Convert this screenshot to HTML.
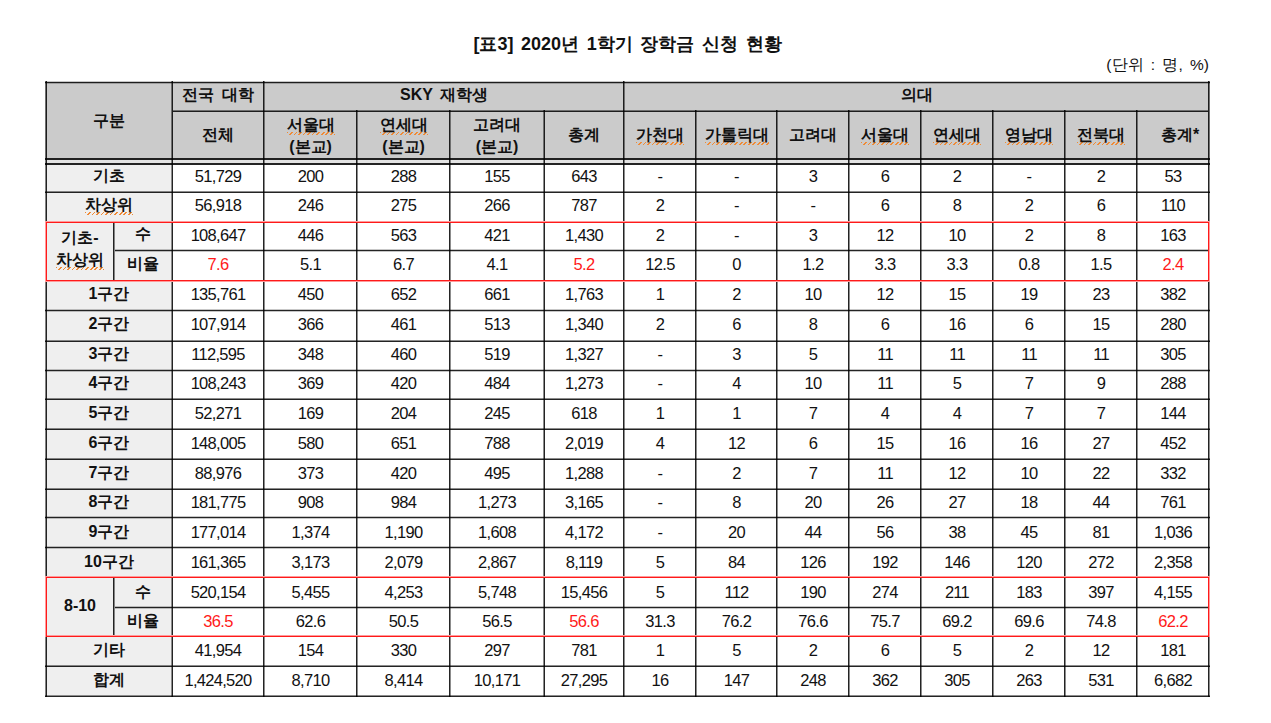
<!DOCTYPE html>
<html><head><meta charset="utf-8"><style>
html,body{margin:0;padding:0;background:#fff;width:1271px;height:723px;overflow:hidden}
body{position:relative;font-family:"Liberation Sans",sans-serif;color:#111}
div{position:absolute;box-sizing:border-box}
.t{display:flex;align-items:center;justify-content:center;text-align:center;white-space:nowrap}
.d{font-size:16.5px;line-height:18px;letter-spacing:-0.7px}
.h{font-size:16px;font-weight:bold;line-height:21px;word-spacing:3px}
.h2{line-height:22px;padding-top:3px}
.title{left:45px;width:1165px;top:33px;height:22px;font-size:18px;font-weight:bold;text-align:center;line-height:22px;white-space:nowrap;word-spacing:2.6px}
.unit{right:62px;top:56px;height:18px;font-size:15.5px;line-height:18px;white-space:nowrap;word-spacing:3px}
u{text-decoration:none;background-image:repeating-linear-gradient(135deg,#f08a35 0 1.3px,transparent 1.3px 3.2px);background-size:100% 3px;background-position:0 100%;background-repeat:no-repeat;padding-bottom:2px}
</style></head><body>
<div class="title">[표3] 2020년 1학기 장학금 신청 현황</div>
<div class="unit">(단위 : 명, %)</div>
<div style="left:45px;top:82px;width:1165px;height:76px;background:#cbcbcb;"></div>
<div style="left:45px;top:158px;width:1165px;height:5px;background:#e3e3e3;"></div>
<div style="left:45px;top:163px;width:126px;height:532px;background:#efefef;"></div>
<div style="left:45px;top:81px;width:1165px;height:1px;background:rgba(0,0,0,0.22);"></div>
<div style="left:45px;top:82px;width:1165px;height:1px;background:rgba(0,0,0,0.86);"></div>
<div style="left:45px;top:83px;width:1165px;height:1px;background:rgba(0,0,0,0.22);"></div>
<div style="left:173px;top:110px;width:1035px;height:1px;background:rgba(0,0,0,0.45);"></div>
<div style="left:173px;top:111px;width:1035px;height:1px;background:rgba(0,0,0,0.86);"></div>
<div style="left:45px;top:158px;width:1165px;height:2px;background:rgba(0,0,0,0.86);"></div>
<div style="left:45px;top:163px;width:1165px;height:2px;background:rgba(0,0,0,0.86);"></div>
<div style="left:45px;top:191px;width:1165px;height:1px;background:rgba(0,0,0,0.45);"></div>
<div style="left:45px;top:192px;width:1165px;height:1px;background:rgba(0,0,0,0.86);"></div>
<div style="left:115px;top:249px;width:1093px;height:1px;background:rgba(0,0,0,0.22);"></div>
<div style="left:115px;top:250px;width:1093px;height:1px;background:rgba(0,0,0,0.86);"></div>
<div style="left:115px;top:251px;width:1093px;height:1px;background:rgba(0,0,0,0.22);"></div>
<div style="left:45px;top:309px;width:1165px;height:1px;background:rgba(0,0,0,0.22);"></div>
<div style="left:45px;top:310px;width:1165px;height:1px;background:rgba(0,0,0,0.86);"></div>
<div style="left:45px;top:311px;width:1165px;height:1px;background:rgba(0,0,0,0.22);"></div>
<div style="left:45px;top:340px;width:1165px;height:1px;background:rgba(0,0,0,0.45);"></div>
<div style="left:45px;top:341px;width:1165px;height:1px;background:rgba(0,0,0,0.86);"></div>
<div style="left:45px;top:369px;width:1165px;height:1px;background:rgba(0,0,0,0.22);"></div>
<div style="left:45px;top:370px;width:1165px;height:1px;background:rgba(0,0,0,0.86);"></div>
<div style="left:45px;top:371px;width:1165px;height:1px;background:rgba(0,0,0,0.22);"></div>
<div style="left:45px;top:398px;width:1165px;height:1px;background:rgba(0,0,0,0.45);"></div>
<div style="left:45px;top:399px;width:1165px;height:1px;background:rgba(0,0,0,0.86);"></div>
<div style="left:45px;top:428px;width:1165px;height:1px;background:rgba(0,0,0,0.45);"></div>
<div style="left:45px;top:429px;width:1165px;height:1px;background:rgba(0,0,0,0.86);"></div>
<div style="left:45px;top:458px;width:1165px;height:1px;background:rgba(0,0,0,0.45);"></div>
<div style="left:45px;top:459px;width:1165px;height:1px;background:rgba(0,0,0,0.86);"></div>
<div style="left:45px;top:488px;width:1165px;height:1px;background:rgba(0,0,0,0.45);"></div>
<div style="left:45px;top:489px;width:1165px;height:1px;background:rgba(0,0,0,0.86);"></div>
<div style="left:45px;top:516px;width:1165px;height:1px;background:rgba(0,0,0,0.22);"></div>
<div style="left:45px;top:517px;width:1165px;height:1px;background:rgba(0,0,0,0.86);"></div>
<div style="left:45px;top:518px;width:1165px;height:1px;background:rgba(0,0,0,0.22);"></div>
<div style="left:45px;top:546px;width:1165px;height:1px;background:rgba(0,0,0,0.22);"></div>
<div style="left:45px;top:547px;width:1165px;height:1px;background:rgba(0,0,0,0.86);"></div>
<div style="left:45px;top:548px;width:1165px;height:1px;background:rgba(0,0,0,0.22);"></div>
<div style="left:115px;top:606px;width:1093px;height:1px;background:rgba(0,0,0,0.22);"></div>
<div style="left:115px;top:607px;width:1093px;height:1px;background:rgba(0,0,0,0.86);"></div>
<div style="left:115px;top:608px;width:1093px;height:1px;background:rgba(0,0,0,0.22);"></div>
<div style="left:45px;top:665px;width:1165px;height:1px;background:rgba(0,0,0,0.45);"></div>
<div style="left:45px;top:666px;width:1165px;height:1px;background:rgba(0,0,0,0.86);"></div>
<div style="left:45px;top:695px;width:1165px;height:1px;background:rgba(0,0,0,0.45);"></div>
<div style="left:45px;top:696px;width:1165px;height:1px;background:rgba(0,0,0,0.86);"></div>
<div style="left:45px;top:81px;width:1px;height:616px;background:rgba(0,0,0,0.45);"></div>
<div style="left:46px;top:81px;width:1px;height:616px;background:rgba(0,0,0,0.86);"></div>
<div style="left:171px;top:81px;width:1px;height:616px;background:rgba(0,0,0,0.45);"></div>
<div style="left:172px;top:81px;width:1px;height:616px;background:rgba(0,0,0,0.86);"></div>
<div style="left:263px;top:81px;width:1px;height:616px;background:rgba(0,0,0,0.86);"></div>
<div style="left:264px;top:81px;width:1px;height:616px;background:rgba(0,0,0,0.45);"></div>
<div style="left:356px;top:110px;width:1px;height:587px;background:rgba(0,0,0,0.86);"></div>
<div style="left:357px;top:110px;width:1px;height:587px;background:rgba(0,0,0,0.45);"></div>
<div style="left:449px;top:110px;width:1px;height:587px;background:rgba(0,0,0,0.86);"></div>
<div style="left:450px;top:110px;width:1px;height:587px;background:rgba(0,0,0,0.45);"></div>
<div style="left:543px;top:110px;width:1px;height:587px;background:rgba(0,0,0,0.45);"></div>
<div style="left:544px;top:110px;width:1px;height:587px;background:rgba(0,0,0,0.86);"></div>
<div style="left:623px;top:81px;width:1px;height:616px;background:rgba(0,0,0,0.86);"></div>
<div style="left:624px;top:81px;width:1px;height:616px;background:rgba(0,0,0,0.45);"></div>
<div style="left:695px;top:110px;width:1px;height:587px;background:rgba(0,0,0,0.86);"></div>
<div style="left:696px;top:110px;width:1px;height:587px;background:rgba(0,0,0,0.45);"></div>
<div style="left:776px;top:110px;width:1px;height:587px;background:rgba(0,0,0,0.86);"></div>
<div style="left:777px;top:110px;width:1px;height:587px;background:rgba(0,0,0,0.45);"></div>
<div style="left:848px;top:110px;width:1px;height:587px;background:rgba(0,0,0,0.86);"></div>
<div style="left:849px;top:110px;width:1px;height:587px;background:rgba(0,0,0,0.45);"></div>
<div style="left:920px;top:110px;width:1px;height:587px;background:rgba(0,0,0,0.86);"></div>
<div style="left:921px;top:110px;width:1px;height:587px;background:rgba(0,0,0,0.45);"></div>
<div style="left:992px;top:110px;width:1px;height:587px;background:rgba(0,0,0,0.86);"></div>
<div style="left:993px;top:110px;width:1px;height:587px;background:rgba(0,0,0,0.45);"></div>
<div style="left:1064px;top:110px;width:1px;height:587px;background:rgba(0,0,0,0.86);"></div>
<div style="left:1065px;top:110px;width:1px;height:587px;background:rgba(0,0,0,0.45);"></div>
<div style="left:1136px;top:110px;width:1px;height:587px;background:rgba(0,0,0,0.86);"></div>
<div style="left:1137px;top:110px;width:1px;height:587px;background:rgba(0,0,0,0.45);"></div>
<div style="left:1208px;top:81px;width:1px;height:616px;background:rgba(0,0,0,0.86);"></div>
<div style="left:1209px;top:81px;width:1px;height:616px;background:rgba(0,0,0,0.45);"></div>
<div style="left:113px;top:221px;width:1px;height:59px;background:rgba(0,0,0,0.86);"></div>
<div style="left:114px;top:221px;width:1px;height:59px;background:rgba(0,0,0,0.45);"></div>
<div style="left:113px;top:577px;width:1px;height:58px;background:rgba(0,0,0,0.86);"></div>
<div style="left:114px;top:577px;width:1px;height:58px;background:rgba(0,0,0,0.45);"></div>
<div style="left:45px;top:221px;width:1165px;height:1px;background:#ff9a9a;"></div>
<div style="left:45px;top:281px;width:1165px;height:1px;background:#ff9a9a;"></div>
<div style="left:45px;top:221px;width:1px;height:61px;background:#ff9a9a;"></div>
<div style="left:1209px;top:221px;width:1px;height:61px;background:#ff9a9a;"></div>
<div style="left:46px;top:222px;width:1163px;height:1px;background:#ff1a1a;"></div>
<div style="left:46px;top:280px;width:1163px;height:1px;background:#ff1a1a;"></div>
<div style="left:46px;top:222px;width:1px;height:59px;background:#ff1a1a;"></div>
<div style="left:1208px;top:222px;width:1px;height:59px;background:#ff1a1a;"></div>
<div style="left:45px;top:576px;width:1165px;height:1px;background:#ff9a9a;"></div>
<div style="left:45px;top:635px;width:1165px;height:1px;background:#ff9a9a;"></div>
<div style="left:45px;top:576px;width:1px;height:61px;background:#ff9a9a;"></div>
<div style="left:1209px;top:576px;width:1px;height:61px;background:#ff9a9a;"></div>
<div style="left:46px;top:577px;width:1163px;height:1px;background:#ff1a1a;"></div>
<div style="left:46px;top:636px;width:1163px;height:1px;background:#ff1a1a;"></div>
<div style="left:46px;top:577px;width:1px;height:60px;background:#ff1a1a;"></div>
<div style="left:1208px;top:577px;width:1px;height:60px;background:#ff1a1a;"></div>
<div class="t h" style="left:47px;top:83px;width:124px;height:74px;"><span>구분</span></div>
<div class="t h" style="left:173px;top:81px;width:90px;height:26px;"><span>전국 대학</span></div>
<div class="t h" style="left:265px;top:81px;width:358px;height:26px;"><span>SKY 재학생</span></div>
<div class="t h" style="left:625px;top:81px;width:583px;height:26px;"><span>의대</span></div>
<div class="t h" style="left:173px;top:111px;width:90px;height:46px;"><span>전체</span></div>
<div class="t h h2" style="left:265px;top:111px;width:91px;height:46px;"><span><u>서울대</u><br>(본교)</span></div>
<div class="t h h2" style="left:358px;top:111px;width:91px;height:46px;"><span><u>연세대</u><br>(본교)</span></div>
<div class="t h h2" style="left:451px;top:111px;width:92px;height:46px;"><span>고려대<br>(본교)</span></div>
<div class="t h" style="left:545px;top:111px;width:78px;height:46px;"><span>총계</span></div>
<div class="t h" style="left:625px;top:111px;width:70px;height:46px;"><span><u>가천대</u></span></div>
<div class="t h" style="left:697px;top:111px;width:79px;height:46px;"><span><u>가톨릭대</u></span></div>
<div class="t h" style="left:778px;top:111px;width:70px;height:46px;"><span>고려대</span></div>
<div class="t h" style="left:850px;top:111px;width:70px;height:46px;"><span><u>서울대</u></span></div>
<div class="t h" style="left:922px;top:111px;width:70px;height:46px;"><span><u>연세대</u></span></div>
<div class="t h" style="left:994px;top:111px;width:70px;height:46px;"><span><u>영남대</u></span></div>
<div class="t h" style="left:1066px;top:111px;width:70px;height:46px;"><span><u>전북대</u></span></div>
<div class="t h" style="left:1138px;top:111px;width:70px;height:46px;"><span><span style="position:relative;left:7px">총계*</span></span></div>
<div class="t h" style="left:47px;top:162.5px;width:124px;height:26px;"><span>기초</span></div>
<div class="t d" style="left:173px;top:163.0px;width:90px;height:26px;"><span>51,729</span></div>
<div class="t d" style="left:265px;top:163.0px;width:91px;height:26px;"><span>200</span></div>
<div class="t d" style="left:358px;top:163.0px;width:91px;height:26px;"><span>288</span></div>
<div class="t d" style="left:451px;top:163.0px;width:92px;height:26px;"><span>155</span></div>
<div class="t d" style="left:545px;top:163.0px;width:78px;height:26px;"><span>643</span></div>
<div class="t d" style="left:625px;top:163.0px;width:70px;height:26px;"><span>-</span></div>
<div class="t d" style="left:697px;top:163.0px;width:79px;height:26px;"><span>-</span></div>
<div class="t d" style="left:778px;top:163.0px;width:70px;height:26px;"><span>3</span></div>
<div class="t d" style="left:850px;top:163.0px;width:70px;height:26px;"><span>6</span></div>
<div class="t d" style="left:922px;top:163.0px;width:70px;height:26px;"><span>2</span></div>
<div class="t d" style="left:994px;top:163.0px;width:70px;height:26px;"><span>-</span></div>
<div class="t d" style="left:1066px;top:163.0px;width:70px;height:26px;"><span>2</span></div>
<div class="t d" style="left:1138px;top:163.0px;width:70px;height:26px;"><span>53</span></div>
<div class="t h" style="left:47px;top:190.57px;width:124px;height:28px;"><span><u>차상위</u></span></div>
<div class="t d" style="left:173px;top:191.07px;width:90px;height:28px;"><span>56,918</span></div>
<div class="t d" style="left:265px;top:191.07px;width:91px;height:28px;"><span>246</span></div>
<div class="t d" style="left:358px;top:191.07px;width:91px;height:28px;"><span>275</span></div>
<div class="t d" style="left:451px;top:191.07px;width:92px;height:28px;"><span>266</span></div>
<div class="t d" style="left:545px;top:191.07px;width:78px;height:28px;"><span>787</span></div>
<div class="t d" style="left:625px;top:191.07px;width:70px;height:28px;"><span>2</span></div>
<div class="t d" style="left:697px;top:191.07px;width:79px;height:28px;"><span>-</span></div>
<div class="t d" style="left:778px;top:191.07px;width:70px;height:28px;"><span>-</span></div>
<div class="t d" style="left:850px;top:191.07px;width:70px;height:28px;"><span>6</span></div>
<div class="t d" style="left:922px;top:191.07px;width:70px;height:28px;"><span>8</span></div>
<div class="t d" style="left:994px;top:191.07px;width:70px;height:28px;"><span>2</span></div>
<div class="t d" style="left:1066px;top:191.07px;width:70px;height:28px;"><span>6</span></div>
<div class="t d" style="left:1138px;top:191.07px;width:70px;height:28px;"><span>110</span></div>
<div class="t h" style="left:115px;top:220px;width:56px;height:27px;"><span>수</span></div>
<div class="t d" style="left:173px;top:221.14px;width:90px;height:27px;"><span>108,647</span></div>
<div class="t d" style="left:265px;top:221.14px;width:91px;height:27px;"><span>446</span></div>
<div class="t d" style="left:358px;top:221.14px;width:91px;height:27px;"><span>563</span></div>
<div class="t d" style="left:451px;top:221.14px;width:92px;height:27px;"><span>421</span></div>
<div class="t d" style="left:545px;top:221.14px;width:78px;height:27px;"><span>1,430</span></div>
<div class="t d" style="left:625px;top:221.14px;width:70px;height:27px;"><span>2</span></div>
<div class="t d" style="left:697px;top:221.14px;width:79px;height:27px;"><span>-</span></div>
<div class="t d" style="left:778px;top:221.14px;width:70px;height:27px;"><span>3</span></div>
<div class="t d" style="left:850px;top:221.14px;width:70px;height:27px;"><span>12</span></div>
<div class="t d" style="left:922px;top:221.14px;width:70px;height:27px;"><span>10</span></div>
<div class="t d" style="left:994px;top:221.14px;width:70px;height:27px;"><span>2</span></div>
<div class="t d" style="left:1066px;top:221.14px;width:70px;height:27px;"><span>8</span></div>
<div class="t d" style="left:1138px;top:221.14px;width:70px;height:27px;"><span>163</span></div>
<div class="t h" style="left:115px;top:249px;width:56px;height:28px;"><span>비율</span></div>
<div class="t d" style="left:173px;top:250.21px;width:90px;height:28px;color:#ff1a1a"><span>7.6</span></div>
<div class="t d" style="left:265px;top:250.21px;width:91px;height:28px;"><span>5.1</span></div>
<div class="t d" style="left:358px;top:250.21px;width:91px;height:28px;"><span>6.7</span></div>
<div class="t d" style="left:451px;top:250.21px;width:92px;height:28px;"><span>4.1</span></div>
<div class="t d" style="left:545px;top:250.21px;width:78px;height:28px;color:#ff1a1a"><span>5.2</span></div>
<div class="t d" style="left:625px;top:250.21px;width:70px;height:28px;"><span>12.5</span></div>
<div class="t d" style="left:697px;top:250.21px;width:79px;height:28px;"><span>0</span></div>
<div class="t d" style="left:778px;top:250.21px;width:70px;height:28px;"><span>1.2</span></div>
<div class="t d" style="left:850px;top:250.21px;width:70px;height:28px;"><span>3.3</span></div>
<div class="t d" style="left:922px;top:250.21px;width:70px;height:28px;"><span>3.3</span></div>
<div class="t d" style="left:994px;top:250.21px;width:70px;height:28px;"><span>0.8</span></div>
<div class="t d" style="left:1066px;top:250.21px;width:70px;height:28px;"><span>1.5</span></div>
<div class="t d" style="left:1138px;top:250.21px;width:70px;height:28px;color:#ff1a1a"><span>2.4</span></div>
<div class="t h" style="left:47px;top:279.78px;width:124px;height:28px;"><span>1구간</span></div>
<div class="t d" style="left:173px;top:280.28px;width:90px;height:28px;"><span>135,761</span></div>
<div class="t d" style="left:265px;top:280.28px;width:91px;height:28px;"><span>450</span></div>
<div class="t d" style="left:358px;top:280.28px;width:91px;height:28px;"><span>652</span></div>
<div class="t d" style="left:451px;top:280.28px;width:92px;height:28px;"><span>661</span></div>
<div class="t d" style="left:545px;top:280.28px;width:78px;height:28px;"><span>1,763</span></div>
<div class="t d" style="left:625px;top:280.28px;width:70px;height:28px;"><span>1</span></div>
<div class="t d" style="left:697px;top:280.28px;width:79px;height:28px;"><span>2</span></div>
<div class="t d" style="left:778px;top:280.28px;width:70px;height:28px;"><span>10</span></div>
<div class="t d" style="left:850px;top:280.28px;width:70px;height:28px;"><span>12</span></div>
<div class="t d" style="left:922px;top:280.28px;width:70px;height:28px;"><span>15</span></div>
<div class="t d" style="left:994px;top:280.28px;width:70px;height:28px;"><span>19</span></div>
<div class="t d" style="left:1066px;top:280.28px;width:70px;height:28px;"><span>23</span></div>
<div class="t d" style="left:1138px;top:280.28px;width:70px;height:28px;"><span>382</span></div>
<div class="t h" style="left:47px;top:309.85px;width:124px;height:28px;"><span>2구간</span></div>
<div class="t d" style="left:173px;top:310.35px;width:90px;height:28px;"><span>107,914</span></div>
<div class="t d" style="left:265px;top:310.35px;width:91px;height:28px;"><span>366</span></div>
<div class="t d" style="left:358px;top:310.35px;width:91px;height:28px;"><span>461</span></div>
<div class="t d" style="left:451px;top:310.35px;width:92px;height:28px;"><span>513</span></div>
<div class="t d" style="left:545px;top:310.35px;width:78px;height:28px;"><span>1,340</span></div>
<div class="t d" style="left:625px;top:310.35px;width:70px;height:28px;"><span>2</span></div>
<div class="t d" style="left:697px;top:310.35px;width:79px;height:28px;"><span>6</span></div>
<div class="t d" style="left:778px;top:310.35px;width:70px;height:28px;"><span>8</span></div>
<div class="t d" style="left:850px;top:310.35px;width:70px;height:28px;"><span>6</span></div>
<div class="t d" style="left:922px;top:310.35px;width:70px;height:28px;"><span>16</span></div>
<div class="t d" style="left:994px;top:310.35px;width:70px;height:28px;"><span>6</span></div>
<div class="t d" style="left:1066px;top:310.35px;width:70px;height:28px;"><span>15</span></div>
<div class="t d" style="left:1138px;top:310.35px;width:70px;height:28px;"><span>280</span></div>
<div class="t h" style="left:47px;top:339.92px;width:124px;height:28px;"><span>3구간</span></div>
<div class="t d" style="left:173px;top:340.42px;width:90px;height:28px;"><span>112,595</span></div>
<div class="t d" style="left:265px;top:340.42px;width:91px;height:28px;"><span>348</span></div>
<div class="t d" style="left:358px;top:340.42px;width:91px;height:28px;"><span>460</span></div>
<div class="t d" style="left:451px;top:340.42px;width:92px;height:28px;"><span>519</span></div>
<div class="t d" style="left:545px;top:340.42px;width:78px;height:28px;"><span>1,327</span></div>
<div class="t d" style="left:625px;top:340.42px;width:70px;height:28px;"><span>-</span></div>
<div class="t d" style="left:697px;top:340.42px;width:79px;height:28px;"><span>3</span></div>
<div class="t d" style="left:778px;top:340.42px;width:70px;height:28px;"><span>5</span></div>
<div class="t d" style="left:850px;top:340.42px;width:70px;height:28px;"><span>11</span></div>
<div class="t d" style="left:922px;top:340.42px;width:70px;height:28px;"><span>11</span></div>
<div class="t d" style="left:994px;top:340.42px;width:70px;height:28px;"><span>11</span></div>
<div class="t d" style="left:1066px;top:340.42px;width:70px;height:28px;"><span>11</span></div>
<div class="t d" style="left:1138px;top:340.42px;width:70px;height:28px;"><span>305</span></div>
<div class="t h" style="left:47px;top:369.99px;width:124px;height:26px;"><span>4구간</span></div>
<div class="t d" style="left:173px;top:370.49px;width:90px;height:26px;"><span>108,243</span></div>
<div class="t d" style="left:265px;top:370.49px;width:91px;height:26px;"><span>369</span></div>
<div class="t d" style="left:358px;top:370.49px;width:91px;height:26px;"><span>420</span></div>
<div class="t d" style="left:451px;top:370.49px;width:92px;height:26px;"><span>484</span></div>
<div class="t d" style="left:545px;top:370.49px;width:78px;height:26px;"><span>1,273</span></div>
<div class="t d" style="left:625px;top:370.49px;width:70px;height:26px;"><span>-</span></div>
<div class="t d" style="left:697px;top:370.49px;width:79px;height:26px;"><span>4</span></div>
<div class="t d" style="left:778px;top:370.49px;width:70px;height:26px;"><span>10</span></div>
<div class="t d" style="left:850px;top:370.49px;width:70px;height:26px;"><span>11</span></div>
<div class="t d" style="left:922px;top:370.49px;width:70px;height:26px;"><span>5</span></div>
<div class="t d" style="left:994px;top:370.49px;width:70px;height:26px;"><span>7</span></div>
<div class="t d" style="left:1066px;top:370.49px;width:70px;height:26px;"><span>9</span></div>
<div class="t d" style="left:1138px;top:370.49px;width:70px;height:26px;"><span>288</span></div>
<div class="t h" style="left:47px;top:398.06px;width:124px;height:28px;"><span>5구간</span></div>
<div class="t d" style="left:173px;top:398.56px;width:90px;height:28px;"><span>52,271</span></div>
<div class="t d" style="left:265px;top:398.56px;width:91px;height:28px;"><span>169</span></div>
<div class="t d" style="left:358px;top:398.56px;width:91px;height:28px;"><span>204</span></div>
<div class="t d" style="left:451px;top:398.56px;width:92px;height:28px;"><span>245</span></div>
<div class="t d" style="left:545px;top:398.56px;width:78px;height:28px;"><span>618</span></div>
<div class="t d" style="left:625px;top:398.56px;width:70px;height:28px;"><span>1</span></div>
<div class="t d" style="left:697px;top:398.56px;width:79px;height:28px;"><span>1</span></div>
<div class="t d" style="left:778px;top:398.56px;width:70px;height:28px;"><span>7</span></div>
<div class="t d" style="left:850px;top:398.56px;width:70px;height:28px;"><span>4</span></div>
<div class="t d" style="left:922px;top:398.56px;width:70px;height:28px;"><span>4</span></div>
<div class="t d" style="left:994px;top:398.56px;width:70px;height:28px;"><span>7</span></div>
<div class="t d" style="left:1066px;top:398.56px;width:70px;height:28px;"><span>7</span></div>
<div class="t d" style="left:1138px;top:398.56px;width:70px;height:28px;"><span>144</span></div>
<div class="t h" style="left:47px;top:428.14px;width:124px;height:28px;"><span>6구간</span></div>
<div class="t d" style="left:173px;top:428.64px;width:90px;height:28px;"><span>148,005</span></div>
<div class="t d" style="left:265px;top:428.64px;width:91px;height:28px;"><span>580</span></div>
<div class="t d" style="left:358px;top:428.64px;width:91px;height:28px;"><span>651</span></div>
<div class="t d" style="left:451px;top:428.64px;width:92px;height:28px;"><span>788</span></div>
<div class="t d" style="left:545px;top:428.64px;width:78px;height:28px;"><span>2,019</span></div>
<div class="t d" style="left:625px;top:428.64px;width:70px;height:28px;"><span>4</span></div>
<div class="t d" style="left:697px;top:428.64px;width:79px;height:28px;"><span>12</span></div>
<div class="t d" style="left:778px;top:428.64px;width:70px;height:28px;"><span>6</span></div>
<div class="t d" style="left:850px;top:428.64px;width:70px;height:28px;"><span>15</span></div>
<div class="t d" style="left:922px;top:428.64px;width:70px;height:28px;"><span>16</span></div>
<div class="t d" style="left:994px;top:428.64px;width:70px;height:28px;"><span>16</span></div>
<div class="t d" style="left:1066px;top:428.64px;width:70px;height:28px;"><span>27</span></div>
<div class="t d" style="left:1138px;top:428.64px;width:70px;height:28px;"><span>452</span></div>
<div class="t h" style="left:47px;top:458.21px;width:124px;height:28px;"><span>7구간</span></div>
<div class="t d" style="left:173px;top:458.71px;width:90px;height:28px;"><span>88,976</span></div>
<div class="t d" style="left:265px;top:458.71px;width:91px;height:28px;"><span>373</span></div>
<div class="t d" style="left:358px;top:458.71px;width:91px;height:28px;"><span>420</span></div>
<div class="t d" style="left:451px;top:458.71px;width:92px;height:28px;"><span>495</span></div>
<div class="t d" style="left:545px;top:458.71px;width:78px;height:28px;"><span>1,288</span></div>
<div class="t d" style="left:625px;top:458.71px;width:70px;height:28px;"><span>-</span></div>
<div class="t d" style="left:697px;top:458.71px;width:79px;height:28px;"><span>2</span></div>
<div class="t d" style="left:778px;top:458.71px;width:70px;height:28px;"><span>7</span></div>
<div class="t d" style="left:850px;top:458.71px;width:70px;height:28px;"><span>11</span></div>
<div class="t d" style="left:922px;top:458.71px;width:70px;height:28px;"><span>12</span></div>
<div class="t d" style="left:994px;top:458.71px;width:70px;height:28px;"><span>10</span></div>
<div class="t d" style="left:1066px;top:458.71px;width:70px;height:28px;"><span>22</span></div>
<div class="t d" style="left:1138px;top:458.71px;width:70px;height:28px;"><span>332</span></div>
<div class="t h" style="left:47px;top:488.28px;width:124px;height:27px;"><span>8구간</span></div>
<div class="t d" style="left:173px;top:488.78px;width:90px;height:27px;"><span>181,775</span></div>
<div class="t d" style="left:265px;top:488.78px;width:91px;height:27px;"><span>908</span></div>
<div class="t d" style="left:358px;top:488.78px;width:91px;height:27px;"><span>984</span></div>
<div class="t d" style="left:451px;top:488.78px;width:92px;height:27px;"><span>1,273</span></div>
<div class="t d" style="left:545px;top:488.78px;width:78px;height:27px;"><span>3,165</span></div>
<div class="t d" style="left:625px;top:488.78px;width:70px;height:27px;"><span>-</span></div>
<div class="t d" style="left:697px;top:488.78px;width:79px;height:27px;"><span>8</span></div>
<div class="t d" style="left:778px;top:488.78px;width:70px;height:27px;"><span>20</span></div>
<div class="t d" style="left:850px;top:488.78px;width:70px;height:27px;"><span>26</span></div>
<div class="t d" style="left:922px;top:488.78px;width:70px;height:27px;"><span>27</span></div>
<div class="t d" style="left:994px;top:488.78px;width:70px;height:27px;"><span>18</span></div>
<div class="t d" style="left:1066px;top:488.78px;width:70px;height:27px;"><span>44</span></div>
<div class="t d" style="left:1138px;top:488.78px;width:70px;height:27px;"><span>761</span></div>
<div class="t h" style="left:47px;top:517.35px;width:124px;height:28px;"><span>9구간</span></div>
<div class="t d" style="left:173px;top:517.85px;width:90px;height:28px;"><span>177,014</span></div>
<div class="t d" style="left:265px;top:517.85px;width:91px;height:28px;"><span>1,374</span></div>
<div class="t d" style="left:358px;top:517.85px;width:91px;height:28px;"><span>1,190</span></div>
<div class="t d" style="left:451px;top:517.85px;width:92px;height:28px;"><span>1,608</span></div>
<div class="t d" style="left:545px;top:517.85px;width:78px;height:28px;"><span>4,172</span></div>
<div class="t d" style="left:625px;top:517.85px;width:70px;height:28px;"><span>-</span></div>
<div class="t d" style="left:697px;top:517.85px;width:79px;height:28px;"><span>20</span></div>
<div class="t d" style="left:778px;top:517.85px;width:70px;height:28px;"><span>44</span></div>
<div class="t d" style="left:850px;top:517.85px;width:70px;height:28px;"><span>56</span></div>
<div class="t d" style="left:922px;top:517.85px;width:70px;height:28px;"><span>38</span></div>
<div class="t d" style="left:994px;top:517.85px;width:70px;height:28px;"><span>45</span></div>
<div class="t d" style="left:1066px;top:517.85px;width:70px;height:28px;"><span>81</span></div>
<div class="t d" style="left:1138px;top:517.85px;width:70px;height:28px;"><span>1,036</span></div>
<div class="t h" style="left:47px;top:547.42px;width:124px;height:28px;"><span>10구간</span></div>
<div class="t d" style="left:173px;top:547.92px;width:90px;height:28px;"><span>161,365</span></div>
<div class="t d" style="left:265px;top:547.92px;width:91px;height:28px;"><span>3,173</span></div>
<div class="t d" style="left:358px;top:547.92px;width:91px;height:28px;"><span>2,079</span></div>
<div class="t d" style="left:451px;top:547.92px;width:92px;height:28px;"><span>2,867</span></div>
<div class="t d" style="left:545px;top:547.92px;width:78px;height:28px;"><span>8,119</span></div>
<div class="t d" style="left:625px;top:547.92px;width:70px;height:28px;"><span>5</span></div>
<div class="t d" style="left:697px;top:547.92px;width:79px;height:28px;"><span>84</span></div>
<div class="t d" style="left:778px;top:547.92px;width:70px;height:28px;"><span>126</span></div>
<div class="t d" style="left:850px;top:547.92px;width:70px;height:28px;"><span>192</span></div>
<div class="t d" style="left:922px;top:547.92px;width:70px;height:28px;"><span>146</span></div>
<div class="t d" style="left:994px;top:547.92px;width:70px;height:28px;"><span>120</span></div>
<div class="t d" style="left:1066px;top:547.92px;width:70px;height:28px;"><span>272</span></div>
<div class="t d" style="left:1138px;top:547.92px;width:70px;height:28px;"><span>2,358</span></div>
<div class="t h" style="left:115px;top:577px;width:56px;height:28px;"><span>수</span></div>
<div class="t d" style="left:173px;top:577.99px;width:90px;height:28px;"><span>520,154</span></div>
<div class="t d" style="left:265px;top:577.99px;width:91px;height:28px;"><span>5,455</span></div>
<div class="t d" style="left:358px;top:577.99px;width:91px;height:28px;"><span>4,253</span></div>
<div class="t d" style="left:451px;top:577.99px;width:92px;height:28px;"><span>5,748</span></div>
<div class="t d" style="left:545px;top:577.99px;width:78px;height:28px;"><span>15,456</span></div>
<div class="t d" style="left:625px;top:577.99px;width:70px;height:28px;"><span>5</span></div>
<div class="t d" style="left:697px;top:577.99px;width:79px;height:28px;"><span>112</span></div>
<div class="t d" style="left:778px;top:577.99px;width:70px;height:28px;"><span>190</span></div>
<div class="t d" style="left:850px;top:577.99px;width:70px;height:28px;"><span>274</span></div>
<div class="t d" style="left:922px;top:577.99px;width:70px;height:28px;"><span>211</span></div>
<div class="t d" style="left:994px;top:577.99px;width:70px;height:28px;"><span>183</span></div>
<div class="t d" style="left:1066px;top:577.99px;width:70px;height:28px;"><span>397</span></div>
<div class="t d" style="left:1138px;top:577.99px;width:70px;height:28px;"><span>4,155</span></div>
<div class="t h" style="left:115px;top:607px;width:56px;height:26px;"><span>비율</span></div>
<div class="t d" style="left:173px;top:608.06px;width:90px;height:26px;color:#ff1a1a"><span>36.5</span></div>
<div class="t d" style="left:265px;top:608.06px;width:91px;height:26px;"><span>62.6</span></div>
<div class="t d" style="left:358px;top:608.06px;width:91px;height:26px;"><span>50.5</span></div>
<div class="t d" style="left:451px;top:608.06px;width:92px;height:26px;"><span>56.5</span></div>
<div class="t d" style="left:545px;top:608.06px;width:78px;height:26px;color:#ff1a1a"><span>56.6</span></div>
<div class="t d" style="left:625px;top:608.06px;width:70px;height:26px;"><span>31.3</span></div>
<div class="t d" style="left:697px;top:608.06px;width:79px;height:26px;"><span>76.2</span></div>
<div class="t d" style="left:778px;top:608.06px;width:70px;height:26px;"><span>76.6</span></div>
<div class="t d" style="left:850px;top:608.06px;width:70px;height:26px;"><span>75.7</span></div>
<div class="t d" style="left:922px;top:608.06px;width:70px;height:26px;"><span>69.2</span></div>
<div class="t d" style="left:994px;top:608.06px;width:70px;height:26px;"><span>69.6</span></div>
<div class="t d" style="left:1066px;top:608.06px;width:70px;height:26px;"><span>74.8</span></div>
<div class="t d" style="left:1138px;top:608.06px;width:70px;height:26px;color:#ff1a1a"><span>62.2</span></div>
<div class="t h" style="left:47px;top:635.63px;width:124px;height:28px;"><span>기타</span></div>
<div class="t d" style="left:173px;top:636.13px;width:90px;height:28px;"><span>41,954</span></div>
<div class="t d" style="left:265px;top:636.13px;width:91px;height:28px;"><span>154</span></div>
<div class="t d" style="left:358px;top:636.13px;width:91px;height:28px;"><span>330</span></div>
<div class="t d" style="left:451px;top:636.13px;width:92px;height:28px;"><span>297</span></div>
<div class="t d" style="left:545px;top:636.13px;width:78px;height:28px;"><span>781</span></div>
<div class="t d" style="left:625px;top:636.13px;width:70px;height:28px;"><span>1</span></div>
<div class="t d" style="left:697px;top:636.13px;width:79px;height:28px;"><span>5</span></div>
<div class="t d" style="left:778px;top:636.13px;width:70px;height:28px;"><span>2</span></div>
<div class="t d" style="left:850px;top:636.13px;width:70px;height:28px;"><span>6</span></div>
<div class="t d" style="left:922px;top:636.13px;width:70px;height:28px;"><span>5</span></div>
<div class="t d" style="left:994px;top:636.13px;width:70px;height:28px;"><span>2</span></div>
<div class="t d" style="left:1066px;top:636.13px;width:70px;height:28px;"><span>12</span></div>
<div class="t d" style="left:1138px;top:636.13px;width:70px;height:28px;"><span>181</span></div>
<div class="t h" style="left:47px;top:665.7px;width:124px;height:28px;"><span>합계</span></div>
<div class="t d" style="left:173px;top:666.2px;width:90px;height:28px;"><span>1,424,520</span></div>
<div class="t d" style="left:265px;top:666.2px;width:91px;height:28px;"><span>8,710</span></div>
<div class="t d" style="left:358px;top:666.2px;width:91px;height:28px;"><span>8,414</span></div>
<div class="t d" style="left:451px;top:666.2px;width:92px;height:28px;"><span>10,171</span></div>
<div class="t d" style="left:545px;top:666.2px;width:78px;height:28px;"><span>27,295</span></div>
<div class="t d" style="left:625px;top:666.2px;width:70px;height:28px;"><span>16</span></div>
<div class="t d" style="left:697px;top:666.2px;width:79px;height:28px;"><span>147</span></div>
<div class="t d" style="left:778px;top:666.2px;width:70px;height:28px;"><span>248</span></div>
<div class="t d" style="left:850px;top:666.2px;width:70px;height:28px;"><span>362</span></div>
<div class="t d" style="left:922px;top:666.2px;width:70px;height:28px;"><span>305</span></div>
<div class="t d" style="left:994px;top:666.2px;width:70px;height:28px;"><span>263</span></div>
<div class="t d" style="left:1066px;top:666.2px;width:70px;height:28px;"><span>531</span></div>
<div class="t d" style="left:1138px;top:666.2px;width:70px;height:28px;"><span>6,682</span></div>
<div class="t h" style="left:47px;top:220px;width:66px;height:57px;line-height:22px"><span>기초-<br><u>차상위</u></span></div>
<div class="t h" style="left:47px;top:577px;width:66px;height:56px;"><span>8-10</span></div>
</body></html>
